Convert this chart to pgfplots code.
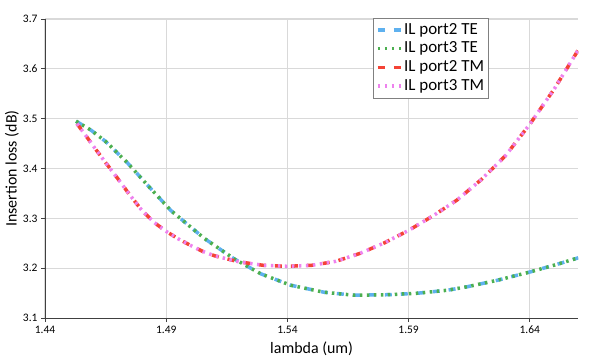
\documentclass[border=0pt]{standalone}
\usepackage{fontspec}
\setmainfont{Carlito}
\usepackage{pgfplots}
\pgfplotsset{compat=1.18}
\usepackage{pgfplotstable}
\definecolor{cblue}{RGB}{94,177,239}
\definecolor{cgreen}{RGB}{76,175,80}
\definecolor{cred}{RGB}{244,67,54}
\definecolor{cviolet}{RGB}{238,130,238}
\definecolor{gridgray}{RGB}{217,217,217}
\definecolor{axgray}{RGB}{64,64,64}

\pgfplotstableread{
x y
1.4528 3.495
1.4590 3.477
1.4651 3.454
1.4741 3.411
1.4830 3.363
1.4919 3.316
1.5057 3.260
1.5180 3.219
1.5290 3.189
1.5414 3.166
1.5551 3.152
1.5675 3.146
1.5813 3.147
1.5936 3.150
1.6060 3.156
1.6142 3.163
1.6266 3.176
1.6396 3.192
1.6513 3.208
1.6600 3.221
}\teport

\pgfplotstableread{
x y
1.4532 3.490
1.4570 3.465
1.4610 3.438
1.4650 3.412
1.4700 3.380
1.4750 3.347
1.4800 3.316
1.4850 3.292
1.4900 3.274
1.4950 3.259
1.5000 3.246
1.5050 3.234
1.5100 3.225
1.5200 3.213
1.5300 3.206
1.5400 3.204
1.5500 3.206
1.5600 3.214
1.5700 3.230
1.5800 3.251
1.5900 3.276
1.6000 3.305
1.6100 3.337
1.6200 3.378
1.6300 3.426
1.6400 3.489
1.6500 3.559
1.6600 3.638
}\tmport

\begin{document}
\begin{tikzpicture}
\begin{axis}[
  scale only axis,
  width=533bp, height=299bp,
  xmin=1.44, xmax=1.66,
  ymin=3.1, ymax=3.7,
  xtick={1.44,1.49,1.54,1.59,1.64},
  ytick={3.1,3.2,3.3,3.4,3.5,3.6,3.7},
  xticklabel style={/pgf/number format/.cd, fixed, fixed zerofill, precision=2, assume math mode=true},
  yticklabel style={/pgf/number format/.cd, fixed, fixed zerofill, precision=1, assume math mode=true},
  ticklabel style={font=\fontsize{11.5}{13}\selectfont, text=black},
  axis x line*=bottom, axis y line*=left,
  axis line style={axgray, line width=1bp, -},
  tick style={axgray, line width=0.8bp},
  tick align=outside, major tick length=4bp,
  grid=major,
  grid style={gridgray, line width=1.2bp},
  xlabel={lambda (um)},
  ylabel={Insertion loss (dB)},
  label style={font=\fontsize{16}{19}\selectfont},
  xlabel style={at={(axis description cs:0.5,0)}, anchor=center, yshift=-31bp},
  ylabel style={at={(axis description cs:0,0.5)}, anchor=center, yshift=33bp},
  legend style={at={(rel axis cs:0.615,1.004)}, anchor=north west,
    draw=gray, fill=white, font=\fontsize{17}{19}\selectfont,
    inner xsep=3bp, inner ysep=4bp, row sep=2.7bp,
    nodes={inner xsep=1.5bp, inner ysep=0bp, text height=12bp, text depth=4bp}},
  legend cell align=left,
  legend image code/.code={\draw[#1] (0bp,0bp) -- (23bp,0bp);},
  every axis plot/.append style={line width=3.5bp},
]
\addplot[cblue, dash pattern=on 7bp off 9bp] table[x=x,y=y] {\teport};
\addlegendentry{IL port2 TE}
\addplot[cgreen, dash pattern=on 2.5bp off 4.5bp] table[x=x,y=y] {\teport};
\addlegendentry{IL port3 TE}
\addplot[cred, dash pattern=on 7bp off 9bp] table[x=x,y=y] {\tmport};
\addlegendentry{IL port2 TM}
\addplot[cviolet, dash pattern=on 2.5bp off 4.5bp] table[x=x,y=y] {\tmport};
\addlegendentry{IL port3 TM}
\coordinate (sw) at (rel axis cs:0,0);
\coordinate (ne) at (rel axis cs:1,1);
\end{axis}
\pgfresetboundingbox
\path ([shift={(-45bp,-40.7bp)}]sw) rectangle ([shift={(19.7bp,19bp)}]ne);
\end{tikzpicture}
\end{document}
